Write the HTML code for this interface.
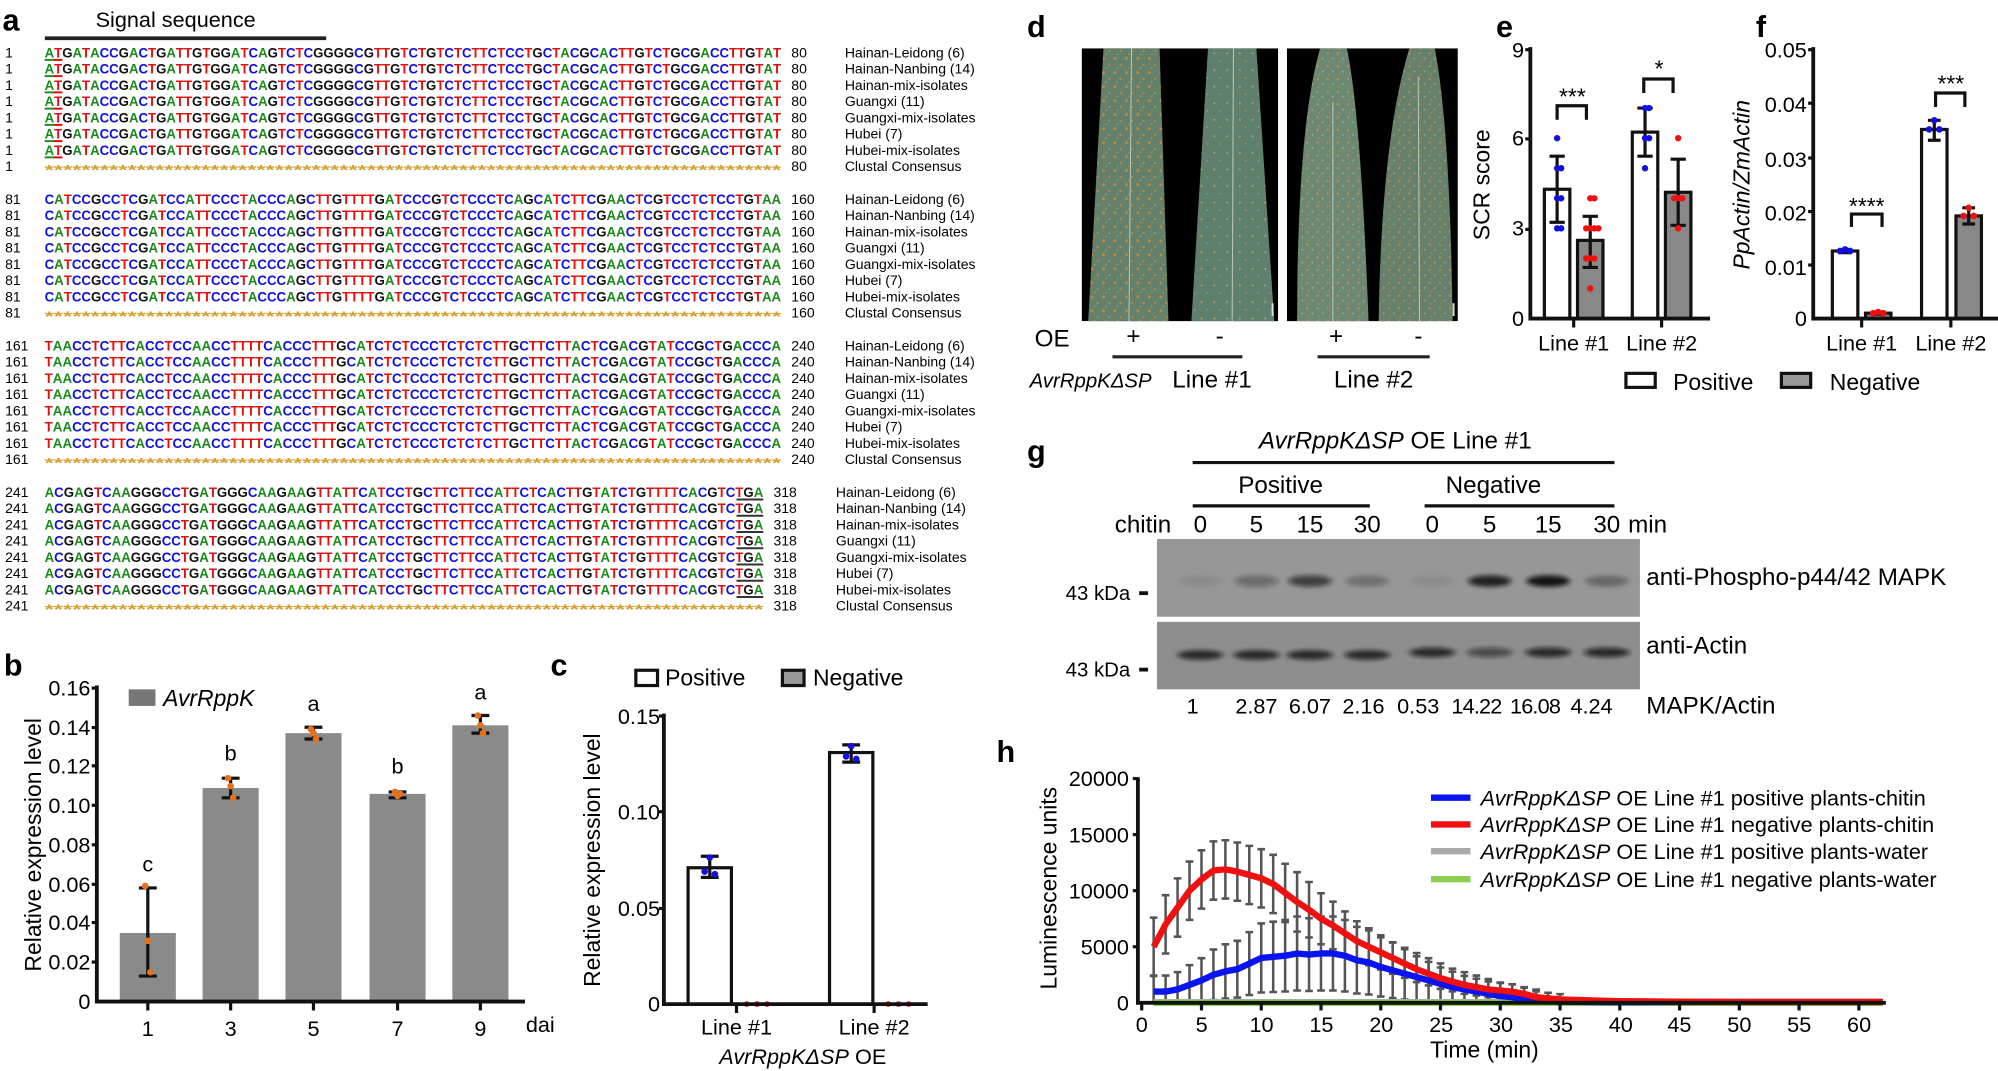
<!DOCTYPE html>
<html><head><meta charset="utf-8"><style>
html,body{margin:0;padding:0;background:#fff;}
svg{display:block;font-family:"Liberation Sans Narrow","Liberation Sans",sans-serif;}
.sq{font-family:"Liberation Sans",sans-serif;font-size:10.5px;font-weight:bold;}
.nm{font-size:11px;}
.tk{font-size:17px;}
.pl{font-family:"Liberation Sans",sans-serif;font-weight:bold;font-size:24px;}
</style></head><body>
<svg id="s" width="1998" height="1071" viewBox="0 0 1568 840.5" xmlns="http://www.w3.org/2000/svg">
<defs>
<pattern id="rust" width="9" height="11" patternUnits="userSpaceOnUse">
<rect width="9" height="11" fill="#62806a"/>
<circle cx="2" cy="2" r="1.1" fill="#c8873c"/><circle cx="6.5" cy="7" r="0.9" fill="#b98a45"/><circle cx="4" cy="9.5" r="0.6" fill="#a8a070"/>
</pattern>
<pattern id="rust2" width="10" height="13" patternUnits="userSpaceOnUse">
<rect width="10" height="13" fill="#5f806c"/>
<circle cx="3" cy="3" r="0.8" fill="#b0a470"/><circle cx="7.5" cy="9" r="0.6" fill="#b89a58"/>
</pattern>
<pattern id="rust3" width="8" height="10" patternUnits="userSpaceOnUse">
<rect width="8" height="10" fill="#6a8872"/>
<circle cx="2" cy="2" r="0.9" fill="#c09058"/><circle cx="6" cy="6" r="0.8" fill="#aaa078"/><circle cx="3" cy="8.5" r="0.6" fill="#c88a50"/>
</pattern>
<filter id="bl" x="-50%" y="-200%" width="200%" height="500%"><feGaussianBlur stdDeviation="2.2 1.6"/></filter>
</defs>

<!-- Panel a -->
<text class="pl" x="2" y="24">a</text>
<text x="75" y="21" font-size="17">Signal sequence</text>
<line x1="44" y1="30" x2="320" y2="30" stroke="#222" stroke-width="3" transform="scale(0.8,1)"/>

<g id="blk1" transform="translate(0,45)">
<g class="nm">
<text x="4" y="0">1</text><text x="4" y="12.75">1</text><text x="4" y="25.5">1</text><text x="4" y="38.25">1</text><text x="4" y="51">1</text><text x="4" y="63.75">1</text><text x="4" y="76.5">1</text><text x="4" y="89.25">1</text>
<text x="621" y="0">80</text><text x="621" y="12.75">80</text><text x="621" y="25.5">80</text><text x="621" y="38.25">80</text><text x="621" y="51">80</text><text x="621" y="63.75">80</text><text x="621" y="76.5">80</text><text x="621" y="89.25">80</text>
<text x="663" y="0">Hainan-Leidong (6)</text><text x="663" y="12.75">Hainan-Nanbing (14)</text><text x="663" y="25.5">Hainan-mix-isolates</text><text x="663" y="38.25">Guangxi (11)</text><text x="663" y="51">Guangxi-mix-isolates</text><text x="663" y="63.75">Hubei (7)</text><text x="663" y="76.5">Hubei-mix-isolates</text><text x="663" y="89.25">Clustal Consensus</text>
</g>
<text class="sq" x="35" y="0" textLength="578" lengthAdjust="spacingAndGlyphs">ATGATACCGACTGATTGTGGATCAGTCTCGGGGCGTTGTCTGTCTCTTCTCCTGCTACGCACTTGTCTGCGACCTTGTAT</text>
<text class="sq" x="35" y="12.75" textLength="578" lengthAdjust="spacingAndGlyphs">ATGATACCGACTGATTGTGGATCAGTCTCGGGGCGTTGTCTGTCTCTTCTCCTGCTACGCACTTGTCTGCGACCTTGTAT</text>
<text class="sq" x="35" y="25.5" textLength="578" lengthAdjust="spacingAndGlyphs">ATGATACCGACTGATTGTGGATCAGTCTCGGGGCGTTGTCTGTCTCTTCTCCTGCTACGCACTTGTCTGCGACCTTGTAT</text>
<text class="sq" x="35" y="38.25" textLength="578" lengthAdjust="spacingAndGlyphs">ATGATACCGACTGATTGTGGATCAGTCTCGGGGCGTTGTCTGTCTCTTCTCCTGCTACGCACTTGTCTGCGACCTTGTAT</text>
<text class="sq" x="35" y="51" textLength="578" lengthAdjust="spacingAndGlyphs">ATGATACCGACTGATTGTGGATCAGTCTCGGGGCGTTGTCTGTCTCTTCTCCTGCTACGCACTTGTCTGCGACCTTGTAT</text>
<text class="sq" x="35" y="63.75" textLength="578" lengthAdjust="spacingAndGlyphs">ATGATACCGACTGATTGTGGATCAGTCTCGGGGCGTTGTCTGTCTCTTCTCCTGCTACGCACTTGTCTGCGACCTTGTAT</text>
<text class="sq" x="35" y="76.5" textLength="578" lengthAdjust="spacingAndGlyphs">ATGATACCGACTGATTGTGGATCAGTCTCGGGGCGTTGTCTGTCTCTTCTCCTGCTACGCACTTGTCTGCGACCTTGTAT</text>
<text class="sq" x="35" y="92" fill="#d4a030" textLength="578" lengthAdjust="spacingAndGlyphs">********************************************************************************</text>
<g stroke-width="1.5"><line x1="35" y1="2" x2="42" y2="2" stroke="#1a8a1a"/><line x1="42" y1="2" x2="49" y2="2" stroke="#e00"/><line x1="35" y1="14.75" x2="42" y2="14.75" stroke="#1a8a1a"/><line x1="42" y1="14.75" x2="49" y2="14.75" stroke="#e00"/><line x1="35" y1="27.5" x2="42" y2="27.5" stroke="#1a8a1a"/><line x1="42" y1="27.5" x2="49" y2="27.5" stroke="#e00"/><line x1="35" y1="40.25" x2="42" y2="40.25" stroke="#1a8a1a"/><line x1="42" y1="40.25" x2="49" y2="40.25" stroke="#e00"/><line x1="35" y1="53" x2="42" y2="53" stroke="#1a8a1a"/><line x1="42" y1="53" x2="49" y2="53" stroke="#e00"/><line x1="35" y1="65.75" x2="42" y2="65.75" stroke="#1a8a1a"/><line x1="42" y1="65.75" x2="49" y2="65.75" stroke="#e00"/><line x1="35" y1="78.5" x2="42" y2="78.5" stroke="#1a8a1a"/><line x1="42" y1="78.5" x2="49" y2="78.5" stroke="#e00"/></g>
</g>

<g transform="translate(0,160)">
<g class="nm">
<text x="4" y="0">81</text><text x="4" y="12.75">81</text><text x="4" y="25.5">81</text><text x="4" y="38.25">81</text><text x="4" y="51">81</text><text x="4" y="63.75">81</text><text x="4" y="76.5">81</text><text x="4" y="89.25">81</text>
<text x="621" y="0">160</text><text x="621" y="12.75">160</text><text x="621" y="25.5">160</text><text x="621" y="38.25">160</text><text x="621" y="51">160</text><text x="621" y="63.75">160</text><text x="621" y="76.5">160</text><text x="621" y="89.25">160</text>
<text x="663" y="0">Hainan-Leidong (6)</text><text x="663" y="12.75">Hainan-Nanbing (14)</text><text x="663" y="25.5">Hainan-mix-isolates</text><text x="663" y="38.25">Guangxi (11)</text><text x="663" y="51">Guangxi-mix-isolates</text><text x="663" y="63.75">Hubei (7)</text><text x="663" y="76.5">Hubei-mix-isolates</text><text x="663" y="89.25">Clustal Consensus</text>
</g>
<text class="sq" x="35" y="0" textLength="578" lengthAdjust="spacingAndGlyphs">CATCCGCCTCGATCCATTCCCTACCCAGCTTGTTTTGATCCCGTCTCCCTCAGCATCTTCGAACTCGTCCTCTCCTGTAA</text>
<text class="sq" x="35" y="12.75" textLength="578" lengthAdjust="spacingAndGlyphs">CATCCGCCTCGATCCATTCCCTACCCAGCTTGTTTTGATCCCGTCTCCCTCAGCATCTTCGAACTCGTCCTCTCCTGTAA</text>
<text class="sq" x="35" y="25.5" textLength="578" lengthAdjust="spacingAndGlyphs">CATCCGCCTCGATCCATTCCCTACCCAGCTTGTTTTGATCCCGTCTCCCTCAGCATCTTCGAACTCGTCCTCTCCTGTAA</text>
<text class="sq" x="35" y="38.25" textLength="578" lengthAdjust="spacingAndGlyphs">CATCCGCCTCGATCCATTCCCTACCCAGCTTGTTTTGATCCCGTCTCCCTCAGCATCTTCGAACTCGTCCTCTCCTGTAA</text>
<text class="sq" x="35" y="51" textLength="578" lengthAdjust="spacingAndGlyphs">CATCCGCCTCGATCCATTCCCTACCCAGCTTGTTTTGATCCCGTCTCCCTCAGCATCTTCGAACTCGTCCTCTCCTGTAA</text>
<text class="sq" x="35" y="63.75" textLength="578" lengthAdjust="spacingAndGlyphs">CATCCGCCTCGATCCATTCCCTACCCAGCTTGTTTTGATCCCGTCTCCCTCAGCATCTTCGAACTCGTCCTCTCCTGTAA</text>
<text class="sq" x="35" y="76.5" textLength="578" lengthAdjust="spacingAndGlyphs">CATCCGCCTCGATCCATTCCCTACCCAGCTTGTTTTGATCCCGTCTCCCTCAGCATCTTCGAACTCGTCCTCTCCTGTAA</text>
<text class="sq" x="35" y="92" fill="#d4a030" textLength="578" lengthAdjust="spacingAndGlyphs">********************************************************************************</text>
</g>

<g transform="translate(0,275)">
<g class="nm">
<text x="4" y="0">161</text><text x="4" y="12.75">161</text><text x="4" y="25.5">161</text><text x="4" y="38.25">161</text><text x="4" y="51">161</text><text x="4" y="63.75">161</text><text x="4" y="76.5">161</text><text x="4" y="89.25">161</text>
<text x="621" y="0">240</text><text x="621" y="12.75">240</text><text x="621" y="25.5">240</text><text x="621" y="38.25">240</text><text x="621" y="51">240</text><text x="621" y="63.75">240</text><text x="621" y="76.5">240</text><text x="621" y="89.25">240</text>
<text x="663" y="0">Hainan-Leidong (6)</text><text x="663" y="12.75">Hainan-Nanbing (14)</text><text x="663" y="25.5">Hainan-mix-isolates</text><text x="663" y="38.25">Guangxi (11)</text><text x="663" y="51">Guangxi-mix-isolates</text><text x="663" y="63.75">Hubei (7)</text><text x="663" y="76.5">Hubei-mix-isolates</text><text x="663" y="89.25">Clustal Consensus</text>
</g>
<text class="sq" x="35" y="0" textLength="578" lengthAdjust="spacingAndGlyphs">TAACCTCTTCACCTCCAACCTTTTCACCCTTTGCATCTCTCCCTCTCTCTTGCTTCTTACTCGACGTATCCGCTGACCCA</text>
<text class="sq" x="35" y="12.75" textLength="578" lengthAdjust="spacingAndGlyphs">TAACCTCTTCACCTCCAACCTTTTCACCCTTTGCATCTCTCCCTCTCTCTTGCTTCTTACTCGACGTATCCGCTGACCCA</text>
<text class="sq" x="35" y="25.5" textLength="578" lengthAdjust="spacingAndGlyphs">TAACCTCTTCACCTCCAACCTTTTCACCCTTTGCATCTCTCCCTCTCTCTTGCTTCTTACTCGACGTATCCGCTGACCCA</text>
<text class="sq" x="35" y="38.25" textLength="578" lengthAdjust="spacingAndGlyphs">TAACCTCTTCACCTCCAACCTTTTCACCCTTTGCATCTCTCCCTCTCTCTTGCTTCTTACTCGACGTATCCGCTGACCCA</text>
<text class="sq" x="35" y="51" textLength="578" lengthAdjust="spacingAndGlyphs">TAACCTCTTCACCTCCAACCTTTTCACCCTTTGCATCTCTCCCTCTCTCTTGCTTCTTACTCGACGTATCCGCTGACCCA</text>
<text class="sq" x="35" y="63.75" textLength="578" lengthAdjust="spacingAndGlyphs">TAACCTCTTCACCTCCAACCTTTTCACCCTTTGCATCTCTCCCTCTCTCTTGCTTCTTACTCGACGTATCCGCTGACCCA</text>
<text class="sq" x="35" y="76.5" textLength="578" lengthAdjust="spacingAndGlyphs">TAACCTCTTCACCTCCAACCTTTTCACCCTTTGCATCTCTCCCTCTCTCTTGCTTCTTACTCGACGTATCCGCTGACCCA</text>
<text class="sq" x="35" y="92" fill="#d4a030" textLength="578" lengthAdjust="spacingAndGlyphs">********************************************************************************</text>
</g>

<g transform="translate(0,390)">
<g class="nm">
<text x="4" y="0">241</text><text x="4" y="12.75">241</text><text x="4" y="25.5">241</text><text x="4" y="38.25">241</text><text x="4" y="51">241</text><text x="4" y="63.75">241</text><text x="4" y="76.5">241</text><text x="4" y="89.25">241</text>
<text x="607" y="0">318</text><text x="607" y="12.75">318</text><text x="607" y="25.5">318</text><text x="607" y="38.25">318</text><text x="607" y="51">318</text><text x="607" y="63.75">318</text><text x="607" y="76.5">318</text><text x="607" y="89.25">318</text>
<text x="656" y="0">Hainan-Leidong (6)</text><text x="656" y="12.75">Hainan-Nanbing (14)</text><text x="656" y="25.5">Hainan-mix-isolates</text><text x="656" y="38.25">Guangxi (11)</text><text x="656" y="51">Guangxi-mix-isolates</text><text x="656" y="63.75">Hubei (7)</text><text x="656" y="76.5">Hubei-mix-isolates</text><text x="656" y="89.25">Clustal Consensus</text>
</g>
<text class="sq" x="35" y="0" textLength="564" lengthAdjust="spacingAndGlyphs">ACGAGTCAAGGGCCTGATGGGCAAGAAGTTATTCATCCTGCTTCTTCCATTCTCACTTGTATCTGTTTTCACGTCTGA</text>
<text class="sq" x="35" y="12.75" textLength="564" lengthAdjust="spacingAndGlyphs">ACGAGTCAAGGGCCTGATGGGCAAGAAGTTATTCATCCTGCTTCTTCCATTCTCACTTGTATCTGTTTTCACGTCTGA</text>
<text class="sq" x="35" y="25.5" textLength="564" lengthAdjust="spacingAndGlyphs">ACGAGTCAAGGGCCTGATGGGCAAGAAGTTATTCATCCTGCTTCTTCCATTCTCACTTGTATCTGTTTTCACGTCTGA</text>
<text class="sq" x="35" y="38.25" textLength="564" lengthAdjust="spacingAndGlyphs">ACGAGTCAAGGGCCTGATGGGCAAGAAGTTATTCATCCTGCTTCTTCCATTCTCACTTGTATCTGTTTTCACGTCTGA</text>
<text class="sq" x="35" y="51" textLength="564" lengthAdjust="spacingAndGlyphs">ACGAGTCAAGGGCCTGATGGGCAAGAAGTTATTCATCCTGCTTCTTCCATTCTCACTTGTATCTGTTTTCACGTCTGA</text>
<text class="sq" x="35" y="63.75" textLength="564" lengthAdjust="spacingAndGlyphs">ACGAGTCAAGGGCCTGATGGGCAAGAAGTTATTCATCCTGCTTCTTCCATTCTCACTTGTATCTGTTTTCACGTCTGA</text>
<text class="sq" x="35" y="76.5" textLength="564" lengthAdjust="spacingAndGlyphs">ACGAGTCAAGGGCCTGATGGGCAAGAAGTTATTCATCCTGCTTCTTCCATTCTCACTTGTATCTGTTTTCACGTCTGA</text>
<text class="sq" x="35" y="92" fill="#d4a030" textLength="564" lengthAdjust="spacingAndGlyphs">******************************************************************************</text>
<g stroke-width="1.5"><line x1="578" y1="2" x2="599" y2="2" stroke="#333"/><line x1="578" y1="14.75" x2="599" y2="14.75" stroke="#333"/><line x1="578" y1="27.5" x2="599" y2="27.5" stroke="#333"/><line x1="578" y1="40.25" x2="599" y2="40.25" stroke="#333"/><line x1="578" y1="53" x2="599" y2="53" stroke="#333"/><line x1="578" y1="65.75" x2="599" y2="65.75" stroke="#333"/><line x1="578" y1="78.5" x2="599" y2="78.5" stroke="#333"/></g>
</g>

<!-- Panel b -->
<text class="pl" x="3" y="530">b</text>
<text x="32" y="663" font-family="Liberation Sans" font-size="18" text-anchor="middle" transform="rotate(-90 32 663)">Relative expression level</text>
<g class="tk" text-anchor="end">
<text x="71" y="546">0.16</text><text x="71" y="577">0.14</text><text x="71" y="607">0.12</text><text x="71" y="638">0.10</text><text x="71" y="669">0.08</text><text x="71" y="700">0.06</text><text x="71" y="730">0.04</text><text x="71" y="761">0.02</text><text x="71" y="792">0</text>
</g>
<g id="bbars"></g>
<path d="M76,538 V786 H412" fill="none" stroke="#111" stroke-width="3"/>
<g stroke="#111" stroke-width="2.5"><line x1="72" y1="540" x2="76" y2="540"/><line x1="72" y1="571" x2="76" y2="571"/><line x1="72" y1="601" x2="76" y2="601"/><line x1="72" y1="632" x2="76" y2="632"/><line x1="72" y1="663" x2="76" y2="663"/><line x1="72" y1="694" x2="76" y2="694"/><line x1="72" y1="724" x2="76" y2="724"/><line x1="72" y1="755" x2="76" y2="755"/></g>
<rect x="101" y="541" width="21" height="13" fill="#777"/>
<text x="128" y="554" font-size="18" font-style="italic">AvrRppK</text>
<g class="tk" text-anchor="middle" font-size="18">
<text x="116" y="684">c</text><text x="181" y="597">b</text><text x="246" y="558">a</text><text x="312" y="607">b</text><text x="377" y="549">a</text>
<text x="116" y="813">1</text><text x="181" y="813">3</text><text x="246" y="813">5</text><text x="312" y="813">7</text><text x="377" y="813">9</text><text x="424" y="810">dai</text>
</g>

<!-- Panel c -->
<text class="pl" x="432" y="530">c</text>
<rect x="499" y="526" width="17" height="12" fill="#fff" stroke="#111" stroke-width="2.5"/>
<text x="522" y="538" font-size="18">Positive</text>
<rect x="614" y="526" width="17" height="12" fill="#999" stroke="#111" stroke-width="2.5"/>
<text x="638" y="538" font-size="18">Negative</text>
<text x="471" y="675" font-family="Liberation Sans" font-size="18" text-anchor="middle" transform="rotate(-90 471 675)">Relative expression level</text>
<g class="tk" text-anchor="end"><text x="518" y="568">0.15</text><text x="518" y="643">0.10</text><text x="518" y="719">0.05</text><text x="518" y="794">0</text></g>
<g id="cbars"></g>
<path d="M521,560 V788 H728" fill="none" stroke="#111" stroke-width="3"/>
<g stroke="#111" stroke-width="2.5"><line x1="517" y1="562" x2="521" y2="562"/><line x1="517" y1="637" x2="521" y2="637"/><line x1="517" y1="713" x2="521" y2="713"/><line x1="578" y1="788" x2="578" y2="795"/><line x1="686" y1="788" x2="686" y2="795"/></g>
<g class="tk" text-anchor="middle"><text x="578" y="812">Line #1</text><text x="686" y="812">Line #2</text>
<text x="630" y="835"><tspan font-style="italic">AvrRppKΔSP</tspan> OE</text></g>

<!-- Panel d -->
<text class="pl" x="806" y="29">d</text>
<rect x="849" y="38" width="154" height="214" fill="#000"/>
<rect x="1010" y="38" width="134" height="214" fill="#000"/>
<polygon points="866,38 910,38 917,252 854,252" fill="url(#rust)"/>
<line x1="888" y1="38" x2="886" y2="252" stroke="#b8c8b8" stroke-width="0.8"/>
<polygon points="948,38 986,38 1000,252 935,252" fill="url(#rust2)"/>
<line x1="968" y1="38" x2="967" y2="252" stroke="#b8c8b8" stroke-width="0.8"/>
<path d="M1036,38 L1057,38 Q1068,90 1074,252 L1018,252 Q1018,100 1036,38 Z" fill="url(#rust3)"/>
<line x1="1046" y1="80" x2="1046" y2="252" stroke="#b8c8b8" stroke-width="0.8"/>
<path d="M1106,38 L1126,38 Q1138,100 1140,252 L1082,252 Q1084,110 1106,38 Z" fill="url(#rust3)" opacity="0.95"/>
<line x1="1113" y1="60" x2="1114" y2="252" stroke="#b8c8b8" stroke-width="0.8"/>
<rect x="998" y="238" width="1.5" height="10" fill="#ddd"/><rect x="1140" y="238" width="1.5" height="10" fill="#ddd"/>
<g font-size="19"><text x="812" y="272">OE</text><text x="884" y="270">+</text><text x="954" y="270">-</text><text x="1043" y="270">+</text><text x="1110" y="270">-</text></g>
<line x1="873" y1="280" x2="975" y2="280" stroke="#222" stroke-width="2.5"/>
<line x1="1034" y1="280" x2="1122" y2="280" stroke="#222" stroke-width="2.5"/>
<text x="808" y="304" font-size="16" font-style="italic">AvrRppKΔSP</text>
<text x="920" y="304" font-size="19">Line #1</text>
<text x="1078" y="304" font-size="19" text-anchor="middle">Line #2</text>

<!-- Panel e -->
<text class="pl" x="1174" y="29">e</text>
<text x="1169" y="145" font-family="Liberation Sans" font-size="18" text-anchor="middle" transform="rotate(-90 1169 145)">SCR score</text>
<g class="tk" text-anchor="end"><text x="1196" y="45">9</text><text x="1196" y="114">6</text><text x="1196" y="185">3</text><text x="1196" y="256">0</text></g>
<g id="ebars"></g>
<path d="M1201,37 V250 H1342" fill="none" stroke="#111" stroke-width="3"/>
<g stroke="#111" stroke-width="2.5"><line x1="1197" y1="39" x2="1201" y2="39"/><line x1="1197" y1="109" x2="1201" y2="109"/><line x1="1197" y1="180" x2="1201" y2="180"/><line x1="1235" y1="250" x2="1235" y2="257"/><line x1="1304" y1="250" x2="1304" y2="257"/></g>
<g fill="none" stroke="#111" stroke-width="2.5"><path d="M1222,94 V83 H1245 V94"/><path d="M1290,73 V62 H1313 V73"/><path d="M1453,178 V168 H1477 V178"/><path d="M1519,84 V73 H1542 V84"/></g>
<g font-size="18" text-anchor="middle"><text x="1234" y="82">***</text><text x="1302" y="60">*</text><text x="1465" y="168">****</text><text x="1531" y="72">***</text></g>
<g class="tk" text-anchor="middle"><text x="1235" y="275">Line #1</text><text x="1304" y="275">Line #2</text></g>

<!-- Panel f -->
<text class="pl" x="1378" y="29">f</text>
<text x="1373" y="145" font-family="Liberation Sans" font-size="18" font-style="italic" text-anchor="middle" transform="rotate(-90 1373 145)">PpActin/ZmActin</text>
<g class="tk" text-anchor="end"><text x="1418" y="45">0.05</text><text x="1418" y="88">0.04</text><text x="1418" y="131">0.03</text><text x="1418" y="173">0.02</text><text x="1418" y="216">0.01</text><text x="1418" y="256">0</text></g>
<g id="fbars"></g>
<path d="M1423,37 V250 H1568" fill="none" stroke="#111" stroke-width="3"/>
<g stroke="#111" stroke-width="2.5"><line x1="1419" y1="39" x2="1423" y2="39"/><line x1="1419" y1="81" x2="1423" y2="81"/><line x1="1419" y1="124" x2="1423" y2="124"/><line x1="1419" y1="166" x2="1423" y2="166"/><line x1="1419" y1="208" x2="1423" y2="208"/><line x1="1461" y1="250" x2="1461" y2="257"/><line x1="1531" y1="250" x2="1531" y2="257"/></g>
<g class="tk" text-anchor="middle"><text x="1461" y="275">Line #1</text><text x="1531" y="275">Line #2</text></g>
<rect x="1276" y="293" width="23" height="11" fill="#fff" stroke="#111" stroke-width="2.5"/>
<text x="1313" y="306" font-size="18">Positive</text>
<rect x="1398" y="293" width="23" height="11" fill="#999" stroke="#111" stroke-width="2.5"/>
<text x="1436" y="306" font-size="18">Negative</text>

<!-- Panel g -->
<text class="pl" x="806" y="362">g</text>
<text x="1095" y="352" font-size="19" text-anchor="middle"><tspan font-style="italic">AvrRppKΔSP</tspan> OE Line #1</text>
<line x1="936" y1="363" x2="1267" y2="363" stroke="#111" stroke-width="2.5"/>
<text x="1005" y="387" font-size="19" text-anchor="middle">Positive</text>
<line x1="936" y1="397" x2="1075" y2="397" stroke="#111" stroke-width="2.5"/>
<text x="1172" y="387" font-size="19" text-anchor="middle">Negative</text>
<line x1="1118" y1="397" x2="1267" y2="397" stroke="#111" stroke-width="2.5"/>
<g font-size="19" text-anchor="middle"><text x="897" y="418">chitin</text><text x="942" y="418">0</text><text x="986" y="418">5</text><text x="1028" y="418">15</text><text x="1073" y="418">30</text><text x="1124" y="418">0</text><text x="1169" y="418">5</text><text x="1215" y="418">15</text><text x="1261" y="418">30</text><text x="1293" y="418">min</text></g>
<rect x="908" y="423" width="379" height="61" fill="#979797"/>
<rect x="908" y="488" width="379" height="53" fill="#8e8e8e"/>
<g id="bands" filter="url(#bl)"></g>
<g font-size="16" text-anchor="end"><text x="887" y="471">43 kDa</text><text x="887" y="531">43 kDa</text></g>
<rect x="894" y="464" width="7" height="3" fill="#111"/><rect x="894" y="524" width="7" height="3" fill="#111"/>
<text x="1292" y="459" font-size="19">anti-Phospho-p44/42 MAPK</text>
<text x="1292" y="513" font-size="19">anti-Actin</text>
<g font-size="17" text-anchor="middle"><text x="936" y="560">1</text><text x="986" y="560">2.87</text><text x="1028" y="560">6.07</text><text x="1070" y="560">2.16</text><text x="1113" y="560">0.53</text><text x="1159" y="560" textLength="40">14.22</text><text x="1205" y="560" textLength="40">16.08</text><text x="1249" y="560">4.24</text></g>
<text x="1292" y="560" font-size="19">MAPK/Actin</text>

<!-- Panel h -->
<text class="pl" x="782" y="598">h</text>
<text x="829" y="697" font-family="Liberation Sans" font-size="18" text-anchor="middle" transform="rotate(-90 829 697)">Luminescence  units</text>
<g class="tk" text-anchor="end"><text x="886" y="617">20000</text><text x="886" y="661">15000</text><text x="886" y="705">10000</text><text x="886" y="749">5000</text><text x="886" y="793">0</text></g>
<g id="hplot"></g>
<path d="M893,610 V787 H1480" fill="none" stroke="#111" stroke-width="3"/>
<g id="hticks" stroke="#111" stroke-width="2.5"><line x1="889" y1="611" x2="893" y2="611"/><line x1="889" y1="655" x2="893" y2="655"/><line x1="889" y1="699" x2="893" y2="699"/><line x1="889" y1="743" x2="893" y2="743"/></g>
<g class="tk" text-anchor="middle"><text x="896" y="810">0</text><text x="943" y="810">5</text><text x="990" y="810">10</text><text x="1037" y="810">15</text><text x="1084" y="810">20</text><text x="1131" y="810">25</text><text x="1178" y="810">30</text><text x="1225" y="810">35</text><text x="1272" y="810">40</text><text x="1318" y="810">45</text><text x="1365" y="810">50</text><text x="1412" y="810">55</text><text x="1459" y="810">60</text>
<text x="1165" y="830" font-size="18">Time (min)</text></g>
<g stroke-width="5"><line x1="1123" y1="626" x2="1154" y2="626" stroke="#0a14f0"/><line x1="1123" y1="647" x2="1154" y2="647" stroke="#f01010"/><line x1="1123" y1="668" x2="1154" y2="668" stroke="#aaa"/><line x1="1123" y1="690" x2="1154" y2="690" stroke="#8ccf50"/></g>
<g font-size="17"><text x="1162" y="632"><tspan font-style="italic">AvrRppKΔSP</tspan> OE Line #1 positive plants-chitin</text>
<text x="1162" y="653"><tspan font-style="italic">AvrRppKΔSP</tspan> OE Line #1 negative plants-chitin</text>
<text x="1162" y="674"><tspan font-style="italic">AvrRppKΔSP</tspan> OE Line #1 positive plants-water</text>
<text x="1162" y="696"><tspan font-style="italic">AvrRppKΔSP</tspan> OE Line #1 negative plants-water</text></g>
</svg>
<script>
(function(){
var NS="http://www.w3.org/2000/svg";
function E(p,t,a){var e=document.createElementNS(NS,t);for(var k in a)e.setAttribute(k,a[k]);p.appendChild(e);return e;}
var col={A:"#1a8a1a",C:"#1010e0",G:"#111",T:"#e01010"};
document.querySelectorAll("text.sq").forEach(function(t){
 var s=t.textContent; if(s.charAt(0)=="*")return;
 t.textContent="";
 var i=0;while(i<s.length){var c=s[i],j=i;while(j<s.length&&s[j]==c)j++;
  var ts=E(t,"tspan",{fill:col[c]||"#000"});ts.textContent=s.slice(i,j);i=j;}
});
function dot(g,x,y,c,r){E(g,"circle",{cx:x,cy:y,r:r||2.6,fill:c});}
function eb(g,x,y1,y2,w,sw){E(g,"path",{d:"M"+(x-w)+","+y1+"H"+(x+w)+"M"+x+","+y1+"V"+y2+"M"+(x-w)+","+y2+"H"+(x+w),stroke:"#111","stroke-width":sw||2.5,fill:"none"});}
var gb=document.getElementById("bbars");
var yb=function(v){return 786-v*1537.5;};
var B=[[116,.035,.013,.058,[.059,.031,.015]],[181,.109,.104,.114,[.114,.110,.104]],[246,.137,.134,.140,[.139,.137,.134]],[312,.106,.104,.107,[.107,.105,.106]],[377,.141,.137,.146,[.146,.141,.137]]];
B.forEach(function(b){E(gb,"rect",{x:b[0]-22,y:yb(b[1]),width:44,height:786-yb(b[1]),fill:"#8a8a8a"});
 eb(gb,b[0],yb(b[3]),yb(b[2]),7,2.5);
 b[4].forEach(function(v,i){dot(gb,b[0]+(i-1)*2,yb(v),"#e8701a",2.6);});
 E(gb,"line",{x1:b[0],y1:786,x2:b[0],y2:793,stroke:"#111","stroke-width":2.5});});
var gc=document.getElementById("cbars");
var yc=function(v){return 788-v*1507;};
[[557,.071,.066,.077],[668,.131,.126,.135]].forEach(function(b){
 E(gc,"rect",{x:b[0]-17,y:yc(b[1]),width:34,height:788-yc(b[1]),fill:"#fff",stroke:"#111","stroke-width":2.5});
 eb(gc,b[0],yc(b[3]),yc(b[2]),7);
 dot(gc,b[0],yc(b[3])+1,"#1010e0");dot(gc,b[0]-4,yc(b[1])+3,"#1010e0");dot(gc,b[0]+4,yc(b[1])+5,"#1010e0");
 for(var i=0;i<3;i++)dot(gc,b[0]+29+i*8,788,"#f03030",2.3);});
var ge=document.getElementById("ebars");
var ye=function(v){return 250-v*23.6;};
var Eb=[[1222,4.3,3.2,5.4,"#fff","#1010e0",[6,5,5,4,4,3,3]],[1248,2.6,1.7,3.4,"#888","#f01010",[4,4,3,3,3,3,2,2,2,1]],[1291,6.2,5.4,7.0,"#fff","#1010e0",[7,7,6,6,5]],[1317,4.2,3.1,5.3,"#888","#f01010",[6,4,4,4,3]]];
Eb.forEach(function(b){E(ge,"rect",{x:b[0]-10,y:ye(b[1]),width:20,height:250-ye(b[1]),fill:b[4],stroke:"#111","stroke-width":2.5});
 eb(ge,b[0],ye(b[3]),ye(b[2]),6);
 var cnt={};b[6].forEach(function(v){cnt[v]=(cnt[v]||0)+1;var k=cnt[v]-1;dot(ge,b[0]+(k%2?4:-4)*Math.ceil(k/2)*0.8,ye(v),b[5],2.5);});});
var gf=document.getElementById("fbars");
var yf=function(v){return 250-v*4240;};
var Fb=[[1448,.0125,.0122,.0128,"#fff","#1010e0"],[1474,.001,.0008,.0012,"#888","#f01010"],[1518,.035,.033,.0367,"#fff","#1010e0"],[1545,.019,.0175,.0205,"#888","#f01010"]];
Fb.forEach(function(b){E(gf,"rect",{x:b[0]-10,y:yf(b[1]),width:20,height:250-yf(b[1]),fill:b[4],stroke:"#111","stroke-width":2.5});
 eb(gf,b[0],yf(b[3]),yf(b[2]),5);
 dot(gf,b[0]-4,yf(b[1]),b[5]);dot(gf,b[0]+4,yf(b[1]),b[5]);dot(gf,b[0],yf(b[3]),b[5]);});
var gg=document.getElementById("bands");
var L=[942,986,1028,1073,1124,1169,1215,1261];
var I1=[0.08,0.35,0.65,0.25,0.07,0.85,0.95,0.3];
L.forEach(function(x,i){E(gg,"ellipse",{cx:x,cy:456,rx:17,ry:4.5,fill:"#111",opacity:I1[i]});
 E(gg,"ellipse",{cx:x,cy:514-(i>3?2:0),rx:18,ry:3.8,fill:"#111",opacity:i==5?0.55:0.8});});
var gh=document.getElementById("hplot");
var X=function(t){return 896+9.38*t;},Y=function(v){return 787-v*0.0088;};
var R=[[1,5000],[2,7000],[3,8500],[4,10000],[5,11000],[6,11800],[7,11900],[8,11700],[9,11400],[10,11100],[11,10600],[12,9800],[13,9000],[14,8300],[15,7500],[16,6900],[17,6200],[18,5500],[19,5000],[20,4500],[21,4000],[22,3500],[23,3000],[24,2600],[25,2200],[26,1900],[27,1600],[28,1400],[29,1200],[30,1100],[31,1000],[32,800],[33,500],[34,400],[35,300],[38,200],[40,150],[45,100],[50,80],[55,80],[62,80]];
var Bl=[[1,1000],[2,1000],[3,1200],[4,1600],[5,2000],[6,2500],[7,2800],[8,3000],[9,3500],[10,4000],[11,4100],[12,4200],[13,4400],[14,4300],[15,4400],[16,4400],[17,4200],[18,3800],[19,3600],[20,3200],[21,2900],[22,2600],[23,2300],[24,2000],[25,1700],[26,1400],[27,1200],[28,1000],[29,800],[30,600],[31,500],[32,300],[33,200],[35,100],[40,60],[50,80],[62,80]];
function sd(v){return v*0.25+400;}
R.forEach(function(p){if(p[0]<=36){var s=p[0]<=12?2600:sd(p[1]);eb(gh,X(p[0]),Y(p[1]+s),Y(Math.max(0,p[1]-s)),3,2);}});
Bl.forEach(function(p){if(p[0]<=34){var s=sd(p[1])*2.2;eb(gh,X(p[0]),Y(p[1]+s),Y(Math.max(0,p[1]-s)),3,2);}});
gh.querySelectorAll("path").forEach(function(p){p.setAttribute("stroke","#555");});
function pl(d,c){E(gh,"polyline",{points:d.map(function(p){return X(p[0])+","+Y(p[1]);}).join(" "),fill:"none",stroke:c,"stroke-width":5,"stroke-linejoin":"round"});}
pl([[1,60],[62,60]],"#aaa");pl([[1,0],[62,0]],"#8ccf50");
pl(Bl,"#0a14f0");pl(R,"#f01010");
for(var t=0;t<=60;t+=5)E(document.getElementById("hticks"),"line",{x1:X(t),y1:787,x2:X(t),y2:793});
})();
</script>
</body></html>
